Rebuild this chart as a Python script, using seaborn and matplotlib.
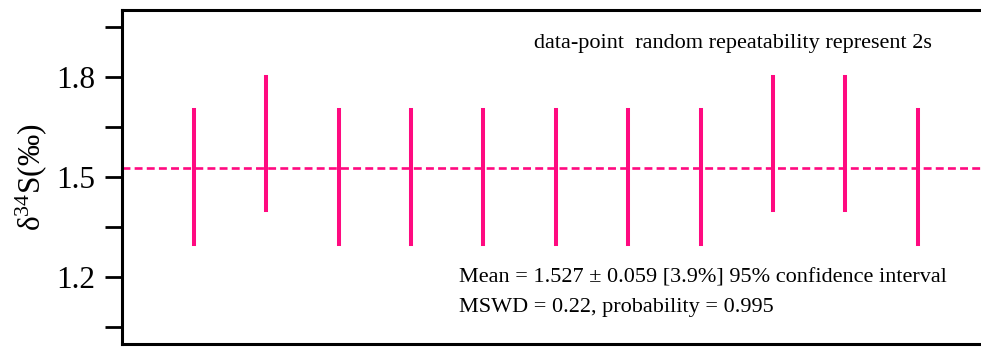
import numpy as np
import pandas as pd
import matplotlib
matplotlib.use("Agg")
import matplotlib.pyplot as plt
import seaborn as sns
from matplotlib.ticker import MultipleLocator

# ---- data ----
sample_index = [1, 2, 3, 4, 5, 6, 7, 8, 9, 10, 11]
d34s_values = [1.5, 1.6, 1.5, 1.5, 1.5, 1.5, 1.5, 1.5, 1.6, 1.6, 1.5]
two_s = [0.2, 0.2, 0.2, 0.2, 0.2, 0.2, 0.2, 0.2, 0.2, 0.2, 0.2]
weighted_mean = 1.527
yticks_major = [1.2, 1.5, 1.8]
note_top = "data-point  random repeatability represent 2s"
note_mean = "Mean = 1.527 \u00b1 0.059 [3.9%] 95% confidence interval"
note_mswd = "MSWD = 0.22, probability = 0.995"
ylabel = "\u03b4$^{34}$S(\u2030)"

rows = []
for i, v, s in zip(sample_index, d34s_values, two_s):
    rows.append({"id": i, "x": i, "y": v - s})
    rows.append({"id": i, "x": i, "y": v + s})
df = pd.DataFrame(rows)

sns.set_style("ticks")
plt.rcParams["font.family"] = ["Liberation Serif", "DejaVu Serif"]
plt.rcParams["mathtext.fontset"] = "custom"
plt.rcParams["mathtext.rm"] = "Liberation Serif"
plt.rcParams["mathtext.it"] = "Liberation Serif:italic"
plt.rcParams["text.color"] = "black"
plt.rcParams["axes.labelcolor"] = "black"
plt.rcParams["ytick.color"] = "black"
plt.rcParams["ytick.labelcolor"] = "black"

pink = "#FF0A80"

fig = plt.figure(figsize=(9.81, 3.47), dpi=100)
ax = fig.add_axes([121.6 / 981, 3.0 / 347, 12 * 72.37 / 981, 334 / 347])

sns.lineplot(data=df, x="x", y="y", units="id", estimator=None, ax=ax,
             color=pink, linewidth=2.9, solid_capstyle="projecting", legend=False)
ax.axhline(weighted_mean, color=pink, linewidth=1.9, linestyle=(0, (3.0, 1.6)))

ax.set_xlim(0, 12)
ax.set_ylim(1.0, 2.0)
ax.set_yticks(yticks_major)
ax.yaxis.set_minor_locator(MultipleLocator(0.15))
ax.set_xticks([])
ax.set_xlabel("")
ax.set_ylabel(ylabel, fontsize=22.5, labelpad=5, color="black")
ax.tick_params(axis="y", which="both", length=12, width=2.0, pad=7, labelsize=22.5,
               direction="out", color="black", labelcolor="black")
for sp in ax.spines.values():
    sp.set_linewidth(2.2)
    sp.set_color("black")
    sp.set_visible(True)

ax.text(5.70, 1.886, note_top, fontsize=16, ha="left", va="baseline", color="black")
ax.text(4.66, 1.183, note_mean, fontsize=16, ha="left", va="baseline", color="black")
ax.text(4.66, 1.096, note_mswd, fontsize=16, ha="left", va="baseline", color="black")

fig.savefig("out.png", dpi=100)
